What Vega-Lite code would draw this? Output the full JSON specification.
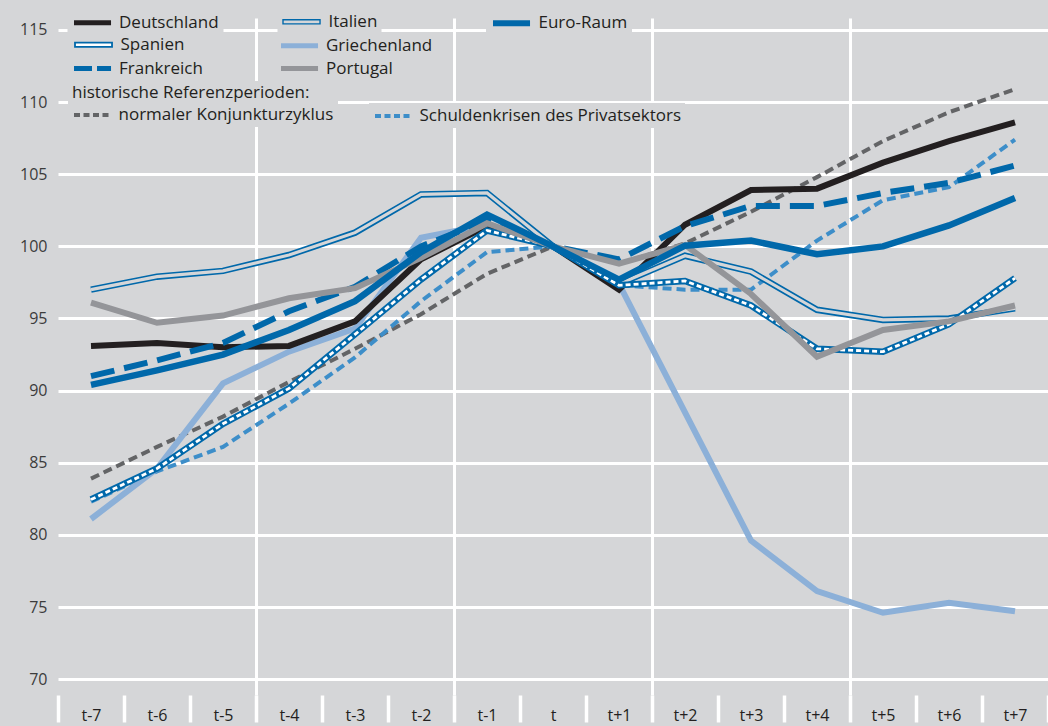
{
  "$schema": "https://vega.github.io/schema/vega-lite/v6.json",
  "width": 990,
  "height": 677,
  "autosize": {"type": "none"},
  "padding": {"left": 58, "top": 18, "right": 0, "bottom": 31},
  "background": "#d5d6d8",
  "config": {
    "view": {"stroke": null},
    "font": "Open Sans",
    "legend": {"labelFont": "Open Sans", "labelFontSize": 17, "labelColor": "#231f20", "labelLimit": 400, "titleLimit": 400, "padding": 4, "fillColor": "#d5d6d8", "symbolSize": 196, "labelOffset": 28.5, "titleFont": "Open Sans", "titleFontSize": 17, "titleFontWeight": "normal", "titleColor": "#231f20", "titlePadding": 4}
  },
  "datasets": {
    "d": [
      {"p":"t-7","s":"Deutschland","v":93.1},{"p":"t-6","s":"Deutschland","v":93.3},{"p":"t-5","s":"Deutschland","v":93.0},{"p":"t-4","s":"Deutschland","v":93.1},{"p":"t-3","s":"Deutschland","v":94.8},{"p":"t-2","s":"Deutschland","v":99.1},{"p":"t-1","s":"Deutschland","v":101.4},{"p":"t","s":"Deutschland","v":100},{"p":"t+1","s":"Deutschland","v":97.0},{"p":"t+2","s":"Deutschland","v":101.5},{"p":"t+3","s":"Deutschland","v":103.9},{"p":"t+4","s":"Deutschland","v":104.0},{"p":"t+5","s":"Deutschland","v":105.8},{"p":"t+6","s":"Deutschland","v":107.3},{"p":"t+7","s":"Deutschland","v":108.6},
      {"p":"t-7","s":"Italien","v":97.0},{"p":"t-6","s":"Italien","v":97.9},{"p":"t-5","s":"Italien","v":98.3},{"p":"t-4","s":"Italien","v":99.4},{"p":"t-3","s":"Italien","v":100.95},{"p":"t-2","s":"Italien","v":103.6},{"p":"t-1","s":"Italien","v":103.7},{"p":"t","s":"Italien","v":100},{"p":"t+1","s":"Italien","v":97.4},{"p":"t+2","s":"Italien","v":99.35},{"p":"t+3","s":"Italien","v":98.25},{"p":"t+4","s":"Italien","v":95.6},{"p":"t+5","s":"Italien","v":94.9},{"p":"t+6","s":"Italien","v":95.0},{"p":"t+7","s":"Italien","v":95.7},
      {"p":"t-7","s":"Spanien","v":82.45},{"p":"t-6","s":"Spanien","v":84.6},{"p":"t-5","s":"Spanien","v":87.7},{"p":"t-4","s":"Spanien","v":90.15},{"p":"t-3","s":"Spanien","v":93.9},{"p":"t-2","s":"Spanien","v":97.7},{"p":"t-1","s":"Spanien","v":101.1},{"p":"t","s":"Spanien","v":100},{"p":"t+1","s":"Spanien","v":97.3},{"p":"t+2","s":"Spanien","v":97.6},{"p":"t+3","s":"Spanien","v":95.9},{"p":"t+4","s":"Spanien","v":92.9},{"p":"t+5","s":"Spanien","v":92.7},{"p":"t+6","s":"Spanien","v":94.6},{"p":"t+7","s":"Spanien","v":97.8},
      {"p":"t-7","s":"Griechenland","v":81.1},{"p":"t-6","s":"Griechenland","v":84.6},{"p":"t-5","s":"Griechenland","v":90.5},{"p":"t-4","s":"Griechenland","v":92.7},{"p":"t-3","s":"Griechenland","v":94.3},{"p":"t-2","s":"Griechenland","v":100.6},{"p":"t-1","s":"Griechenland","v":101.5},{"p":"t","s":"Griechenland","v":100},{"p":"t+1","s":"Griechenland","v":97.4},{"p":"t+2","s":"Griechenland","v":88.5},{"p":"t+3","s":"Griechenland","v":79.6},{"p":"t+4","s":"Griechenland","v":76.1},{"p":"t+5","s":"Griechenland","v":74.6},{"p":"t+6","s":"Griechenland","v":75.3},{"p":"t+7","s":"Griechenland","v":74.7},
      {"p":"t-7","s":"Frankreich","v":91.0},{"p":"t-6","s":"Frankreich","v":92.1},{"p":"t-5","s":"Frankreich","v":93.3},{"p":"t-4","s":"Frankreich","v":95.5},{"p":"t-3","s":"Frankreich","v":97.2},{"p":"t-2","s":"Frankreich","v":100.0},{"p":"t-1","s":"Frankreich","v":101.8},{"p":"t","s":"Frankreich","v":100},{"p":"t+1","s":"Frankreich","v":99.1},{"p":"t+2","s":"Frankreich","v":101.4},{"p":"t+3","s":"Frankreich","v":102.8},{"p":"t+4","s":"Frankreich","v":102.8},{"p":"t+5","s":"Frankreich","v":103.7},{"p":"t+6","s":"Frankreich","v":104.4},{"p":"t+7","s":"Frankreich","v":105.6},
      {"p":"t-7","s":"Portugal","v":96.1},{"p":"t-6","s":"Portugal","v":94.7},{"p":"t-5","s":"Portugal","v":95.2},{"p":"t-4","s":"Portugal","v":96.4},{"p":"t-3","s":"Portugal","v":97.1},{"p":"t-2","s":"Portugal","v":99.2},{"p":"t-1","s":"Portugal","v":101.6},{"p":"t","s":"Portugal","v":100},{"p":"t+1","s":"Portugal","v":98.8},{"p":"t+2","s":"Portugal","v":100.1},{"p":"t+3","s":"Portugal","v":96.7},{"p":"t+4","s":"Portugal","v":92.35},{"p":"t+5","s":"Portugal","v":94.2},{"p":"t+6","s":"Portugal","v":94.8},{"p":"t+7","s":"Portugal","v":95.9},
      {"p":"t-7","s":"Euro-Raum","v":90.4},{"p":"t-6","s":"Euro-Raum","v":91.4},{"p":"t-5","s":"Euro-Raum","v":92.5},{"p":"t-4","s":"Euro-Raum","v":94.2},{"p":"t-3","s":"Euro-Raum","v":96.2},{"p":"t-2","s":"Euro-Raum","v":99.6},{"p":"t-1","s":"Euro-Raum","v":102.2},{"p":"t","s":"Euro-Raum","v":100},{"p":"t+1","s":"Euro-Raum","v":97.7},{"p":"t+2","s":"Euro-Raum","v":100.05},{"p":"t+3","s":"Euro-Raum","v":100.4},{"p":"t+4","s":"Euro-Raum","v":99.45},{"p":"t+5","s":"Euro-Raum","v":100.0},{"p":"t+6","s":"Euro-Raum","v":101.45},{"p":"t+7","s":"Euro-Raum","v":103.35},
      {"p":"t-7","s":"normaler Konjunkturzyklus","v":83.9},{"p":"t-6","s":"normaler Konjunkturzyklus","v":86.1},{"p":"t-5","s":"normaler Konjunkturzyklus","v":88.2},{"p":"t-4","s":"normaler Konjunkturzyklus","v":90.6},{"p":"t-3","s":"normaler Konjunkturzyklus","v":92.9},{"p":"t-2","s":"normaler Konjunkturzyklus","v":95.3},{"p":"t-1","s":"normaler Konjunkturzyklus","v":98.1},{"p":"t","s":"normaler Konjunkturzyklus","v":100},{"p":"t+1","s":"normaler Konjunkturzyklus","v":98.8},{"p":"t+2","s":"normaler Konjunkturzyklus","v":100.2},{"p":"t+3","s":"normaler Konjunkturzyklus","v":102.4},{"p":"t+4","s":"normaler Konjunkturzyklus","v":104.8},{"p":"t+5","s":"normaler Konjunkturzyklus","v":107.3},{"p":"t+6","s":"normaler Konjunkturzyklus","v":109.3},{"p":"t+7","s":"normaler Konjunkturzyklus","v":110.9},
      {"p":"t-7","s":"Schuldenkrisen des Privatsektors","v":82.3},{"p":"t-6","s":"Schuldenkrisen des Privatsektors","v":84.4},{"p":"t-5","s":"Schuldenkrisen des Privatsektors","v":86.1},{"p":"t-4","s":"Schuldenkrisen des Privatsektors","v":89.1},{"p":"t-3","s":"Schuldenkrisen des Privatsektors","v":92.3},{"p":"t-2","s":"Schuldenkrisen des Privatsektors","v":96.2},{"p":"t-1","s":"Schuldenkrisen des Privatsektors","v":99.6},{"p":"t","s":"Schuldenkrisen des Privatsektors","v":100},{"p":"t+1","s":"Schuldenkrisen des Privatsektors","v":97.3},{"p":"t+2","s":"Schuldenkrisen des Privatsektors","v":97.0},{"p":"t+3","s":"Schuldenkrisen des Privatsektors","v":97.0},{"p":"t+4","s":"Schuldenkrisen des Privatsektors","v":100.4},{"p":"t+5","s":"Schuldenkrisen des Privatsektors","v":103.2},{"p":"t+6","s":"Schuldenkrisen des Privatsektors","v":104.1},{"p":"t+7","s":"Schuldenkrisen des Privatsektors","v":107.4}
    ]
  },
  "data": {"name": "d"},
  "encoding": {
    "x": {
      "field": "p", "type": "ordinal",
      "sort": ["t-7","t-6","t-5","t-4","t-3","t-2","t-1","t","t+1","t+2","t+3","t+4","t+5","t+6","t+7"],
      "scale": {"type": "band", "paddingInner": 0, "paddingOuter": 0},
      "axis": {
        "title": null, "domain": false, "labelAngle": 0,
        "grid": true,
        "gridColor": {"condition": {"test": "indexof(['t-5','t-2','t+1','t+4'], datum.value) >= 0", "value": "white"}, "value": "transparent"},
        "gridWidth": 3,
        "tickBand": "extent", "ticks": true, "tickColor": "white", "tickWidth": 3.5, "tickSize": 27,
        "labelFont": "Open Sans", "labelFontSize": 16, "labelColor": "#231f20", "labelPadding": -14.5
      }
    },
    "y": {
      "field": "v", "type": "quantitative",
      "scale": {"domain": [68.9, 115.83], "nice": false, "zero": false},
      "axis": {
        "title": null, "domain": false, "ticks": false, "grid": true, "gridColor": "white", "gridWidth": 3,
        "values": [70,75,80,85,90,95,100,105,110,115],
        "labelFont": "Open Sans", "labelFontSize": 16, "labelColor": "#3c3c3c", "labelPadding": 11
      }
    }
  },
  "layer": [
    {"transform": [{"filter": "datum.s === 'normaler Konjunkturzyklus'"}],
     "mark": {"type": "line", "strokeWidth": 4, "strokeDash": [9, 5]},
     "encoding": {"color": {"field": "s", "type": "nominal", "scale": {"domain": ["normaler Konjunkturzyklus"], "range": ["#636466"]},
       "legend": {"orient": "none", "legendX": 10, "legendY": 63, "title": "historische Referenzperioden:", "symbolType": "M-1,0H4.29", "symbolDash": [6, 3.5], "symbolStrokeWidth": 4}}}},
    {"transform": [{"filter": "datum.s === 'Schuldenkrisen des Privatsektors'"}],
     "mark": {"type": "line", "strokeWidth": 4, "strokeDash": [9, 5]},
     "encoding": {"color": {"field": "s", "type": "nominal", "scale": {"domain": ["Schuldenkrisen des Privatsektors"], "range": ["#3d8ec9"]},
       "legend": {"orient": "none", "legendX": 311, "legendY": 85, "title": null, "symbolType": "M-1,0H4.29", "symbolDash": [6, 3.5], "symbolStrokeWidth": 4}}}},
    {"transform": [{"filter": "datum.s === 'Griechenland'"}],
     "mark": {"type": "line", "strokeWidth": 6},
     "encoding": {"color": {"field": "s", "type": "nominal", "scale": {"domain": ["Griechenland"], "range": ["#8cb0d8"]},
       "legend": {"orient": "none", "legendX": 216.5, "legendY": 14.3, "title": null, "symbolType": "M-1,0H4.29", "symbolStrokeWidth": 5}}}},
    {"transform": [{"filter": "datum.s === 'Deutschland'"}],
     "mark": {"type": "line", "strokeWidth": 6},
     "encoding": {"color": {"field": "s", "type": "nominal", "scale": {"domain": ["Deutschland"], "range": ["#231f20"]},
       "legend": {"orient": "none", "legendX": 9.5, "legendY": -8.7, "title": null, "symbolType": "M-1,0H4.29", "symbolStrokeWidth": 5}}}},
    {"transform": [{"filter": "datum.s === 'Frankreich'"}],
     "mark": {"type": "line", "strokeWidth": 6, "strokeDash": [24, 10]},
     "encoding": {"color": {"field": "s", "type": "nominal", "scale": {"domain": ["Frankreich"], "range": ["#0068aa"]},
       "legend": {"orient": "none", "legendX": 9.5, "legendY": 37, "title": null, "symbolType": "M-1,0H4.29", "symbolDash": [18, 5], "symbolStrokeWidth": 5}}}},
    {"transform": [{"filter": "datum.s === 'Italien'"}],
     "mark": {"type": "line", "strokeWidth": 6.5},
     "encoding": {"color": {"field": "s", "type": "nominal", "scale": {"domain": ["Italien"], "range": ["#0068aa"]},
       "legend": {"orient": "none", "legendX": 219.5, "legendY": -8.7, "title": null, "symbolType": "M-1,-0.29H4.29V0.29H-1Z", "symbolStrokeWidth": 1.4, "symbolFillColor": "transparent", "labelOffset": 30}}}},
    {"transform": [{"filter": "datum.s === 'Italien'"}],
     "mark": {"type": "line", "strokeWidth": 3.2, "stroke": "#d5d6d8"},
     "encoding": {}},
    {"transform": [{"filter": "datum.s === 'Spanien'"}],
     "mark": {"type": "line", "strokeWidth": 6.5},
     "encoding": {"color": {"field": "s", "type": "nominal", "scale": {"domain": ["Spanien"], "range": ["#0068aa"]},
       "legend": {"orient": "none", "legendX": 11.5, "legendY": 14.3, "title": null, "symbolType": "M-1,-0.3H4.29V0.3H-1Z", "symbolStrokeWidth": 1.8, "symbolFillColor": "white", "labelOffset": 30}}}},
    {"transform": [{"filter": "datum.s === 'Spanien'"}],
     "mark": {"type": "line", "strokeWidth": 2.8, "stroke": "white", "strokeDash": [5, 3]},
     "encoding": {}},
    {"transform": [{"filter": "datum.s === 'Portugal'"}],
     "mark": {"type": "line", "strokeWidth": 6},
     "encoding": {"color": {"field": "s", "type": "nominal", "scale": {"domain": ["Portugal"], "range": ["#949599"]},
       "legend": {"orient": "none", "legendX": 216.5, "legendY": 37, "title": null, "symbolType": "M-1,0H4.29", "symbolStrokeWidth": 5}}}},
    {"transform": [{"filter": "datum.s === 'Euro-Raum'"}],
     "mark": {"type": "line", "strokeWidth": 6.5},
     "encoding": {"color": {"field": "s", "type": "nominal", "scale": {"domain": ["Euro-Raum"], "range": ["#0068aa"]},
       "legend": {"orient": "none", "legendX": 428, "legendY": -8.7, "title": null, "symbolType": "M-1,0H4.29", "symbolStrokeWidth": 6}}}}
  ],
  "resolve": {"scale": {"color": "independent"}}
}
